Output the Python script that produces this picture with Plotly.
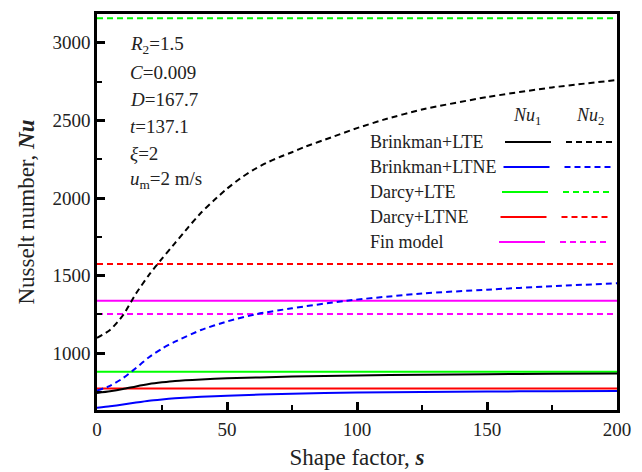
import plotly.graph_objects as go

# ---------------- data ----------------
s_bl = [0, 5, 10, 15, 20, 25, 30, 40, 50, 75, 100, 125, 150, 175, 200]
nu1_brinkman_lte = [745, 756, 770, 787, 802, 813, 822, 832, 839, 850, 857, 862, 866, 868, 870]
nu1_brinkman_ltne = [650, 659, 670, 683, 695, 703, 710, 720, 727, 740, 747, 751, 754, 756, 758]

s_b2 = [0, 5, 10, 15, 20, 25, 30, 35, 40, 45, 50, 55, 60, 65, 70, 75, 80, 90, 100, 110, 125, 150, 175, 200]
nu2_brinkman_lte = [1100, 1150, 1245, 1385, 1505, 1610, 1710, 1810, 1905, 1985, 2060, 2125, 2180,
                    2225, 2262, 2295, 2330, 2390, 2450, 2503, 2570, 2650, 2712, 2760]

s_bn2 = [0, 5, 10, 15, 20, 25, 30, 40, 50, 61.5, 75, 96, 125, 150, 175, 200]
nu2_brinkman_ltne = [760, 790, 840, 905, 975, 1030, 1075, 1150, 1205, 1253, 1290, 1339, 1385, 1410, 1432, 1451]

s_const = [0, 200]
nu1_darcy_lte = [881, 881]
nu2_darcy_lte = [3157, 3157]
nu1_darcy_ltne = [773, 773]
nu2_darcy_ltne = [1575, 1575]
nu1_fin = [1339, 1339]
nu2_fin = [1253, 1253]

legend_labels = ["Brinkman+LTE", "Brinkman+LTNE", "Darcy+LTE", "Darcy+LTNE", "Fin model"]
legend_colors = ["#000000", "#0000FF", "#00FF00", "#FF0000", "#FF00FF"]
params = ["<i>R</i><sub>2</sub>=1.5", "<i>C</i>=0.009", "<i>D</i>=167.7",
          "<i>t</i>=137.1", "<i>ξ</i>=2", "<i>u</i><sub>m</sub>=2 m/s"]

x_ticks = [0, 50, 100, 150, 200]
y_ticks = [1000, 1500, 2000, 2500, 3000]

# ---------------- figure ----------------
W, H = 642, 472
L, R, T, B = 97, 25, 14, 62
PW, PH = W - L - R, H - T - B
FONT = "Liberation Serif"
DASH = "6px,4px"
LW = 2
TXT = "#222222"

def px(x):
    return (x - L) / PW

def py(y):
    return (H - B - y) / PH

fig = go.Figure()

def add(xs, ys, color, dash=None, spline=False):
    fig.add_trace(go.Scatter(
        x=xs, y=ys, mode="lines",
        line=dict(color=color, width=LW, dash=dash if dash else "solid",
                  shape="spline" if spline else "linear", smoothing=0.6),
        showlegend=False, hoverinfo="skip"))

add(s_const, nu1_fin, legend_colors[4])
add(s_const, nu2_fin, legend_colors[4], DASH)
add(s_const, nu1_darcy_lte, legend_colors[2])
add(s_const, nu2_darcy_lte, legend_colors[2], DASH)
add(s_const, nu1_darcy_ltne, legend_colors[3])
add(s_const, nu2_darcy_ltne, legend_colors[3], DASH)
add(s_bl, nu1_brinkman_ltne, legend_colors[1], spline=True)
add(s_bn2, nu2_brinkman_ltne, legend_colors[1], DASH, spline=True)
add(s_bl, nu1_brinkman_lte, legend_colors[0], spline=True)
add(s_b2, nu2_brinkman_lte, legend_colors[0], DASH, spline=True)

annotations = []
shapes = []

# parameter text block
for i, t in enumerate(params):
    annotations.append(dict(
        text=t, xref="paper", yref="paper", x=px(128), y=py(45 + 27 * i),
        xanchor="left", yanchor="middle", showarrow=False,
        font=dict(family=FONT, size=19, color=TXT)))

# legend headers
for hx, htxt in ((527, "<i>Nu</i><sub>1</sub>"), (590, "<i>Nu</i><sub>2</sub>")):
    annotations.append(dict(text=htxt, xref="paper", yref="paper",
                            x=px(hx), y=py(117), xanchor="center", yanchor="middle",
                            showarrow=False, font=dict(family=FONT, size=18, color=TXT)))

for i, (lab, col) in enumerate(zip(legend_labels, legend_colors)):
    yy = 142 + 25 * i
    off = -1.5 * i
    annotations.append(dict(text=lab, xref="paper", yref="paper", x=px(368), y=py(yy),
                            xanchor="left", yanchor="middle", showarrow=False,
                            font=dict(family=FONT, size=18, color=TXT)))
    shapes.append(dict(type="line", xref="paper", yref="paper",
                       x0=px(505 + off), x1=px(551 + off), y0=py(yy), y1=py(yy),
                       line=dict(color=col, width=LW)))
    shapes.append(dict(type="line", xref="paper", yref="paper",
                       x0=px(566 + off), x1=px(613 + off), y0=py(yy), y1=py(yy),
                       line=dict(color=col, width=LW, dash=DASH)))

axis_common = dict(
    showline=True, linecolor="black", linewidth=2.5, mirror=True,
    ticks="inside", ticklen=8, tickwidth=2.5, tickcolor="black",
    showgrid=False, zeroline=False, automargin=False,
    tickfont=dict(family=FONT, size=19, color=TXT),
)

fig.update_layout(
    width=W, height=H,
    margin=dict(l=L, r=R, t=T, b=B, autoexpand=False),
    paper_bgcolor="white", plot_bgcolor="white",
    font=dict(family=FONT, color=TXT),
    xaxis=dict(range=[0, 200], tickvals=x_ticks,
               minor=dict(ticks="inside", ticklen=5, tickwidth=2, dtick=25, tick0=0, tickcolor="black"),
               title=dict(text="Shape factor, <b><i>s</i></b>", standoff=11,
                          font=dict(family=FONT, size=23, color=TXT)),
               **axis_common),
    yaxis=dict(range=[635, 3185], tickvals=y_ticks,
               minor=dict(ticks="inside", ticklen=5, tickwidth=2, dtick=250, tick0=0, tickcolor="black"),
               title=dict(text="Nusselt number, <b><i>Nu</i></b>", standoff=12,
                          font=dict(family=FONT, size=23, color=TXT)),
               **axis_common),
    annotations=annotations,
    shapes=shapes,
)

fig.write_html("out.html", config={"displayModeBar": False},
               post_script="document.body.style.margin='0';document.body.style.overflow='hidden';")
